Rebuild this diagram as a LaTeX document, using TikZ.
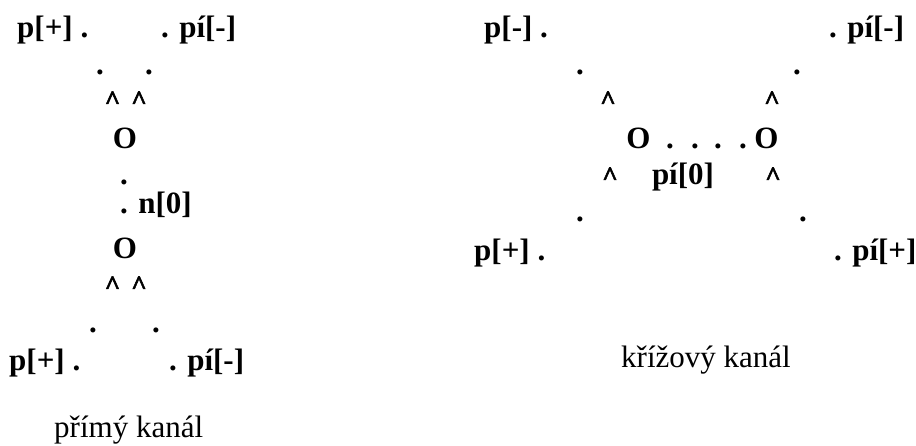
\documentclass[tikz,border=0pt]{standalone}
\usepackage{fontspec}
\setmainfont{Liberation Serif}
\newfontfamily\caretfont{Liberation Serif}[BoldFeatures={FakeBold=2}]

\begin{document}
\begin{tikzpicture}[x=1pt, y=-1pt,
    txt/.style={font=\bfseries\fontsize{31}{31}\selectfont, inner sep=0pt, anchor=base west},
    sym/.style={font=\bfseries\fontsize{31}{31}\selectfont, inner sep=0pt, anchor=base},
    hat/.style={font=\caretfont\bfseries\fontsize{27}{27}\selectfont, inner sep=0pt, anchor=base},
    capt/.style={font=\fontsize{31}{31}\selectfont, inner sep=0pt, anchor=base west}]
    \useasboundingbox (0,0) rectangle (916,445);
    % primy kanal
    \node[txt] (lp1) at (17,37) {p[+] .};
    \node[txt] (lpi1) at (161,37) {. pí[-]};
    \foreach \x/\y [count=\i] in {100/74, 149/74, 124/184, 93/332, 156/332}
        \node[sym] (ld\i) at (\x,\y) {.};
    \foreach \x/\y [count=\i] in {112.5/109, 139/109, 112.5/294, 139/294}
        \node[hat] (lc\i) at (\x,\y) {\textasciicircum};
    \node[sym] (lo1) at (125,148) {O};
    \node[txt] (ln0) at (120,213) {. n[0]};
    \node[sym] (lo2) at (125,258) {O};
    \node[txt] (lp2) at (9,370) {p[+] .};
    \node[txt] (lpi2) at (169,370) {. pí[-]};
    \node[capt] (lcap) at (54,437) {přímý kanál};
    % krizovy kanal
    \node[txt] (rp1) at (484,37) {p[-] .};
    \node[txt] (rpi1) at (829,37) {. pí[-]};
    \foreach \x/\y [count=\i] in {580/74, 797/74, 670/148, 695/148, 718/148, 743/148, 580/221, 803/221}
        \node[sym] (rd\i) at (\x,\y) {.};
    \foreach \x/\y [count=\i] in {608/109, 772/109, 610/185, 773/185}
        \node[hat] (rc\i) at (\x,\y) {\textasciicircum};
    \node[sym] (ro1) at (638.5,148) {O};
    \node[sym] (ro2) at (766.5,148) {O};
    \node[sym] (rpi0) at (683,184) {pí[0]};
    \node[txt] (rp2) at (474,260) {p[+] .};
    \node[txt] (rpi2) at (834,260) {. pí[+]};
    \node[capt] (rcap) at (621,367) {křížový kanál};
\end{tikzpicture}
\end{document}
